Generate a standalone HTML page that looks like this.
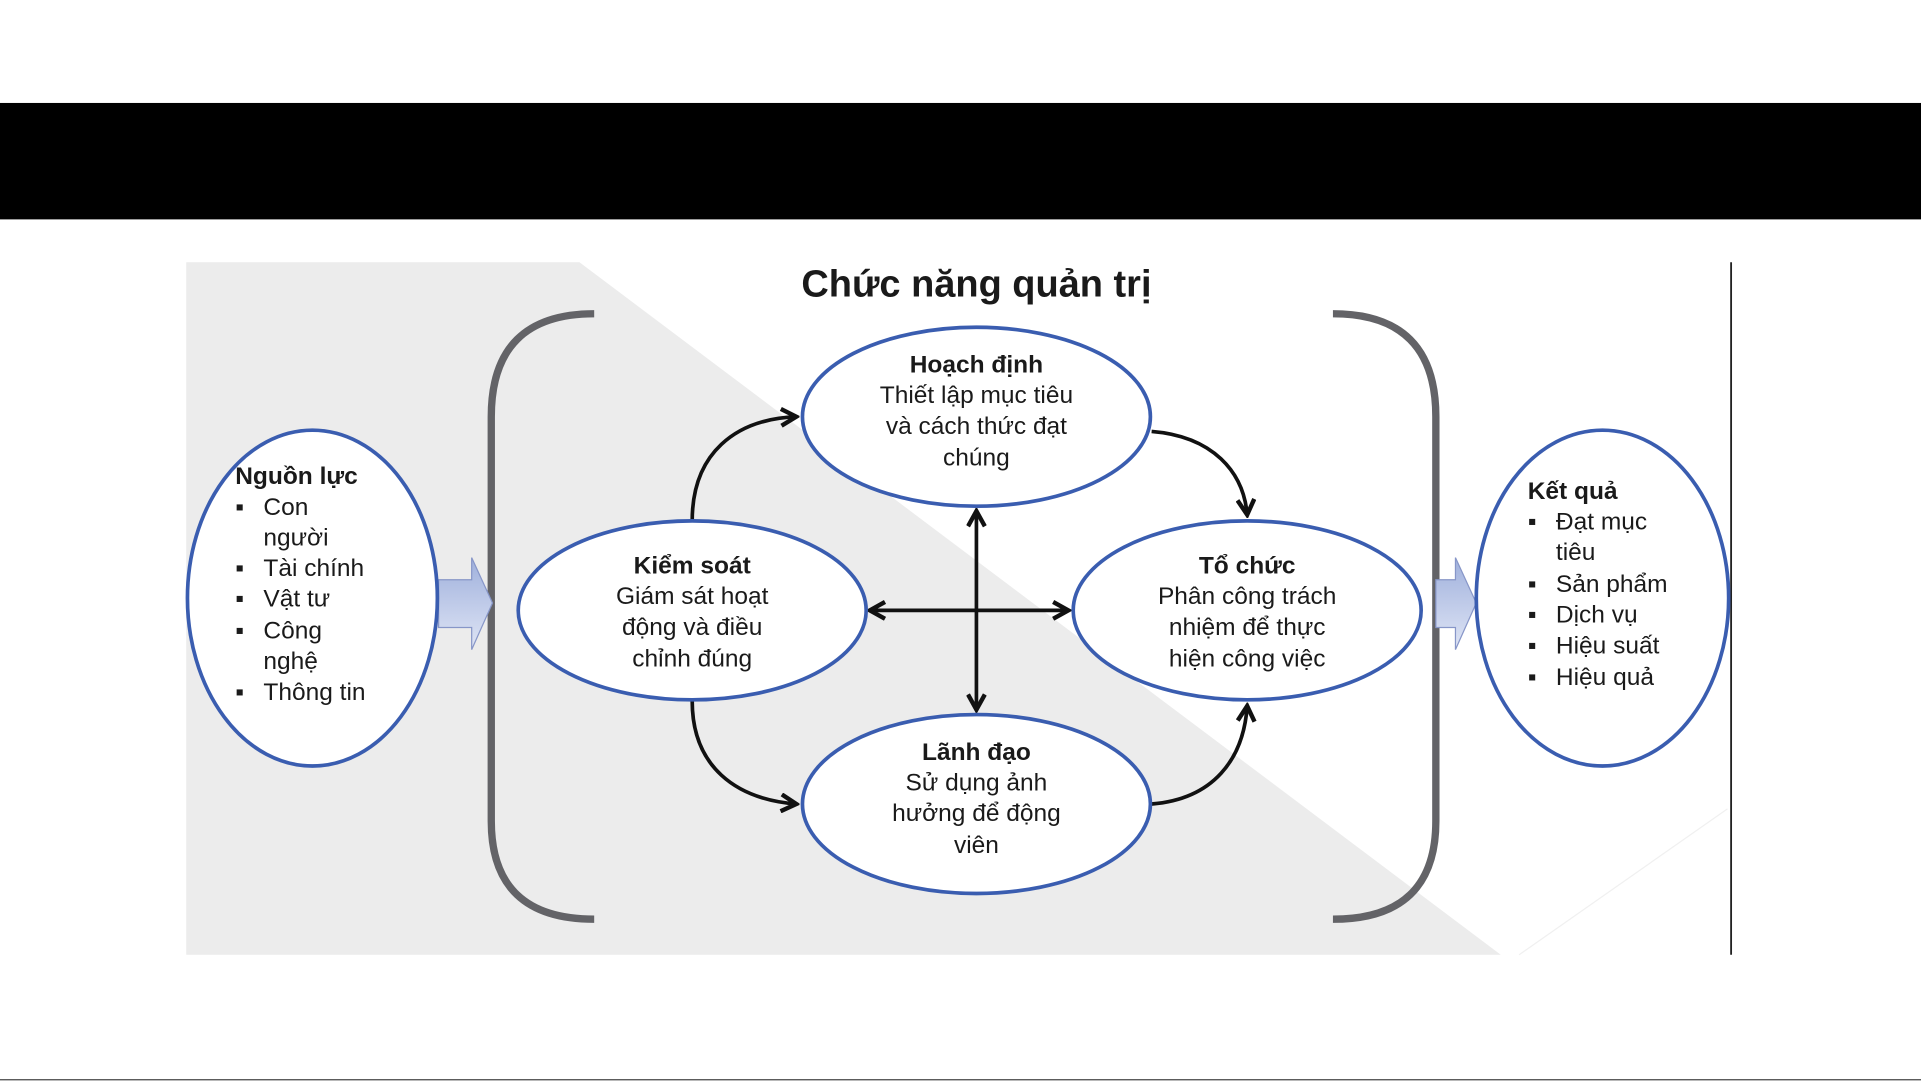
<!DOCTYPE html>
<html><head><meta charset="utf-8"><style>
html,body{margin:0;padding:0;background:#fff;}
svg{display:block;}
svg text{font-family:"Liberation Sans",Arial,Helvetica,sans-serif;fill:#1a1a1a;}
</style></head><body>
<svg width="1921" height="1081" viewBox="0 0 1568 882" preserveAspectRatio="none" xmlns="http://www.w3.org/2000/svg" font-family="Liberation Sans, Arial, sans-serif">
<defs>
<marker id="ah" viewBox="0 0 12 12" refX="10" refY="6" markerWidth="5.5" markerHeight="5.5" orient="auto-start-reverse" markerUnits="strokeWidth">
<path d="M1,1 L10,6 L1,11" fill="none" stroke="#111" stroke-width="2.6"/>
</marker>
<linearGradient id="bl" x1="0" y1="0" x2="0" y2="1">
<stop offset="0" stop-color="#9fb0dc"/><stop offset="1" stop-color="#dfe5f5"/>
</linearGradient>
</defs>
<rect x="0" y="0" width="1568" height="882" fill="#fff"/>
<rect x="0" y="84" width="1568" height="95" fill="#000"/>
<polygon points="152,214 473,214 1225,779 152,779" fill="#ececec"/>
<line x1="1240" y1="779" x2="1410" y2="660" stroke="#f0f0f0" stroke-width="1"/>
<line x1="1413" y1="214" x2="1413" y2="779" stroke="#222" stroke-width="1.5"/>
<text x="797" y="242" text-anchor="middle" font-size="31" font-weight="bold">Chức năng quản trị</text>
<path d="M485,256 Q401,256 401,340 L401,670 Q401,750 485,750" fill="none" stroke="#636367" stroke-width="6"/>
<path d="M1088,256 Q1172,256 1172,340 L1172,670 Q1172,750 1088,750" fill="none" stroke="#636367" stroke-width="6"/>
<polygon points="358,473 385,473 385,455 402,492 385,530 385,512 358,512" fill="url(#bl)" stroke="#8796c8" stroke-width="1"/>
<polygon points="1172,473 1188,473 1188,455 1205,492 1188,530 1188,512 1172,512" fill="url(#bl)" stroke="#8796c8" stroke-width="1"/>
<g fill="none" stroke="#111" stroke-width="3">
<path d="M565,425 C565,370 600,342 650,340" marker-end="url(#ah)"/>
<path d="M940,352 C990,356 1015,385 1018,420" marker-end="url(#ah)"/>
<path d="M565,572 C565,625 600,652 650,656" marker-end="url(#ah)"/>
<path d="M940,656 C990,652 1015,620 1018,576" marker-end="url(#ah)"/>
<line x1="797" y1="417" x2="797" y2="579" marker-start="url(#ah)" marker-end="url(#ah)"/>
<line x1="710" y1="498" x2="872" y2="498" marker-start="url(#ah)" marker-end="url(#ah)"/>
</g>
<g fill="#fff" stroke="#3a5db0" stroke-width="3">
<ellipse cx="797" cy="340" rx="142" ry="73"/>
<ellipse cx="565" cy="498" rx="142" ry="73"/>
<ellipse cx="1018" cy="498" rx="142" ry="73"/>
<ellipse cx="797" cy="656" rx="142" ry="73"/>
<ellipse cx="255" cy="488" rx="102" ry="137"/>
<ellipse cx="1308" cy="488" rx="103" ry="137"/>
</g>
<g font-size="20" text-anchor="middle">
<text x="797" y="304" font-weight="bold">Hoạch định</text>
<text x="797" y="329">Thiết lập mục tiêu</text>
<text x="797" y="354">và cách thức đạt</text>
<text x="797" y="380">chúng</text>
<text x="565" y="468" font-weight="bold">Kiểm soát</text>
<text x="565" y="493">Giám sát hoạt</text>
<text x="565" y="518">động và điều</text>
<text x="565" y="544">chỉnh đúng</text>
<text x="1018" y="468" font-weight="bold">Tổ chức</text>
<text x="1018" y="493">Phân công trách</text>
<text x="1018" y="518">nhiệm để thực</text>
<text x="1018" y="544">hiện công việc</text>
<text x="797" y="620" font-weight="bold">Lãnh đạo</text>
<text x="797" y="645">Sử dụng ảnh</text>
<text x="797" y="670">hưởng để động</text>
<text x="797" y="696">viên</text>
</g>
<g font-size="20">
<text x="192" y="395" font-weight="bold">Nguồn lực</text>
<text x="192" y="420">▪</text><text x="215" y="420">Con</text>
<text x="215" y="445">người</text>
<text x="192" y="470">▪</text><text x="215" y="470">Tài chính</text>
<text x="192" y="495">▪</text><text x="215" y="495">Vật tư</text>
<text x="192" y="521">▪</text><text x="215" y="521">Công</text>
<text x="215" y="546">nghệ</text>
<text x="192" y="571">▪</text><text x="215" y="571">Thông tin</text>
<text x="1247" y="407" font-weight="bold">Kết quả</text>
<text x="1247" y="432">▪</text><text x="1270" y="432">Đạt mục</text>
<text x="1270" y="457">tiêu</text>
<text x="1247" y="483">▪</text><text x="1270" y="483">Sản phẩm</text>
<text x="1247" y="508">▪</text><text x="1270" y="508">Dịch vụ</text>
<text x="1247" y="533">▪</text><text x="1270" y="533">Hiệu suất</text>
<text x="1247" y="559">▪</text><text x="1270" y="559">Hiệu quả</text>
</g>
<line x1="0" y1="881" x2="1568" y2="881" stroke="#444" stroke-width="1"/>
</svg>
</body></html>
